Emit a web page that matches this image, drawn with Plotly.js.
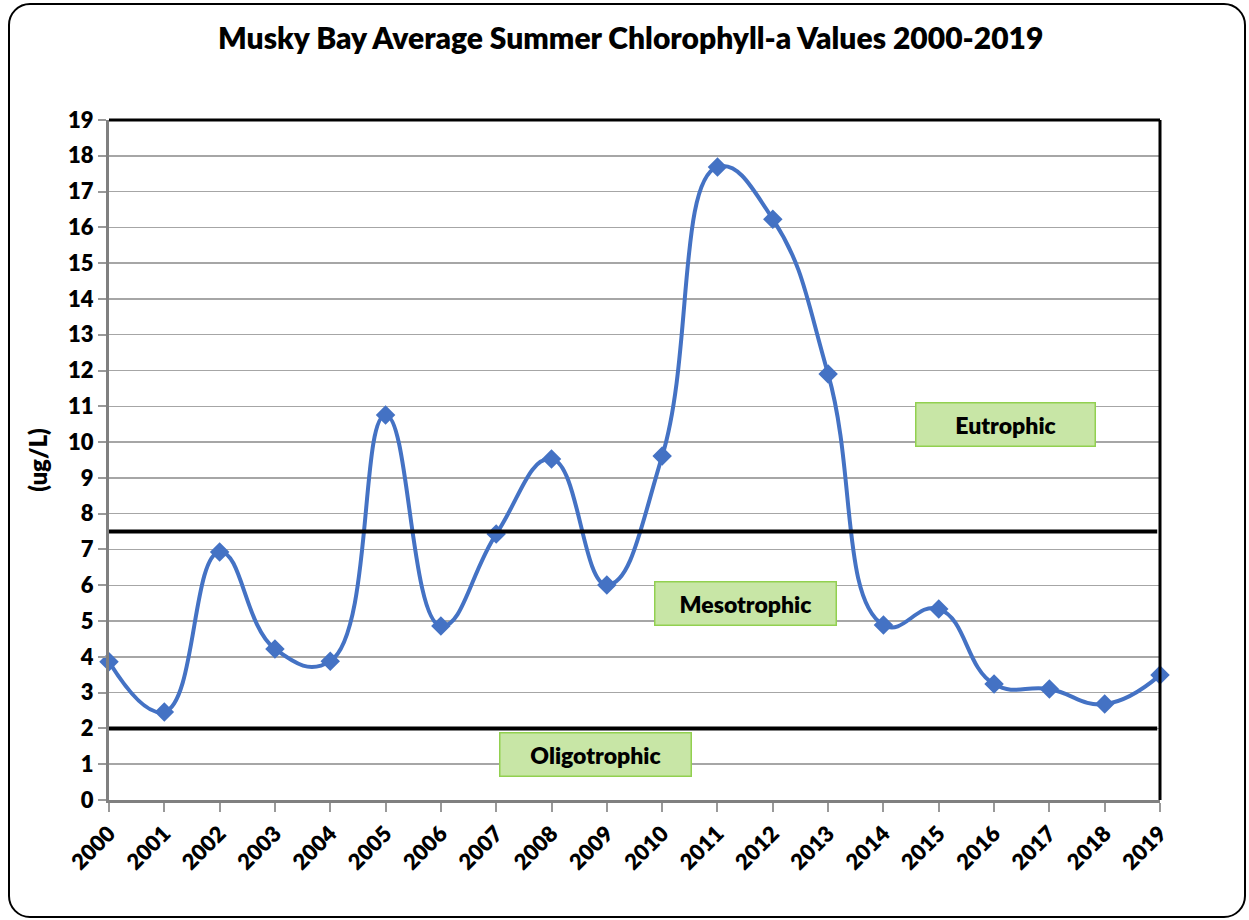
<!DOCTYPE html>
<html>
<head>
<meta charset="utf-8">
<script src="https://cdn.plot.ly/plotly-3.0.1.min.js"></script>
<style>
html,body{margin:0;padding:0;background:#fff;}
#frame{position:absolute;left:8px;top:3px;width:1234px;height:911px;border:2px solid #000;border-radius:22px;box-sizing:content-box;}
#chart{position:absolute;left:0;top:0;width:1249px;height:920px;}
</style>
</head>
<body>
<div id="frame"></div>
<div id="chart"></div>
<script>
const years = [2000,2001,2002,2003,2004,2005,2006,2007,2008,2009,2010,2011,2012,2013,2014,2015,2016,2017,2018,2019];
const chlorophyll = [3.86,2.46,6.93,4.22,3.88,10.76,4.86,7.43,9.53,6.01,9.61,17.69,16.23,11.9,4.89,5.34,3.24,3.10,2.68,3.49];
const yTicks = [0,1,2,3,4,5,6,7,8,9,10,11,12,13,14,15,16,17,18,19];
const thresholds = [7.5, 2];
const zoneLabels = ['Eutrophic','Mesotrophic','Oligotrophic'];
const zoneX = [2016.2, 2011.5, 2008.8];
const zoneY = [10.5, 5.5, 1.26];
const zoneW = [176, 178, 188];

const fontFam = 'Lato, "Open Sans", sans-serif';

const trace = {
  x: years, y: chlorophyll, type: 'scatter', mode: 'lines+markers',
  line: {color: '#4472C4', width: 4, shape: 'spline', smoothing: 1.3},
  marker: {symbol: 'diamond', size: 15, color: '#4472C4'},
  cliponaxis: false, hoverinfo: 'x+y'
};

const shapes = thresholds.map(t => ({
  type: 'line', xref: 'x', yref: 'y', x0: 2000, x1: 2018.95, y0: t, y1: t,
  line: {color: '#000', width: 4}
}));
shapes.push({type:'line', xref:'paper', yref:'paper', x0:0, x1:1, y0:1, y1:1, line:{color:'#000', width:3}});
shapes.push({type:'line', xref:'paper', yref:'paper', x0:1, x1:1, y0:0, y1:1, line:{color:'#000', width:3}});

const annotations = zoneLabels.map((s,i) => ({
  text: s, x: zoneX[i], y: zoneY[i], xref: 'x', yref: 'y',
  showarrow: false, bgcolor: '#C8E6A6', bordercolor: '#92D050', borderwidth: 1.5,
  width: zoneW[i], height: 40, borderpad: 1,
  font: {family: fontFam, size: 23, color: '#000', weight: 800}
}));

const layout = {
  width: 1249, height: 920,
  paper_bgcolor: 'rgba(0,0,0,0)', plot_bgcolor: '#fff',
  margin: {l: 109, r: 89, t: 120, b: 120},
  showlegend: false,
  title: {text: 'Musky Bay Average Summer Chlorophyll-a Values 2000-2019',
    xref: 'container', yref: 'container', x: 0.505, y: 0.958, xanchor: 'center', yanchor: 'middle',
    font: {family: fontFam, size: 30, color: '#000', weight: 800}},
  xaxis: {
    range: [2000, 2019], tickvals: years, ticktext: years.map(String), tickangle: -45,
    showgrid: false, zeroline: false, showline: true, linecolor: '#808080', linewidth: 3,
    ticks: 'outside', ticklen: 9, tickwidth: 2, tickcolor: '#999',
    tickfont: {family: fontFam, size: 22, color: '#000', weight: 800}
  },
  yaxis: {
    range: [0, 19], tickvals: yTicks, showgrid: true, gridcolor: '#a6a6a6', gridwidth: 1.5,
    zeroline: false, showline: true, linecolor: '#808080', linewidth: 3,
    ticks: 'outside', ticklen: 8, tickwidth: 2, tickcolor: '#999',
    tickfont: {family: fontFam, size: 22, color: '#000', weight: 800},
    title: {text: '(ug/L)', standoff: 14, font: {family: fontFam, size: 24, color: '#000', weight: 800}}
  },
  shapes: shapes,
  annotations: annotations
};

Plotly.newPlot('chart', [trace], layout, {displayModeBar: false, staticPlot: true});
</script>
</body>
</html>
